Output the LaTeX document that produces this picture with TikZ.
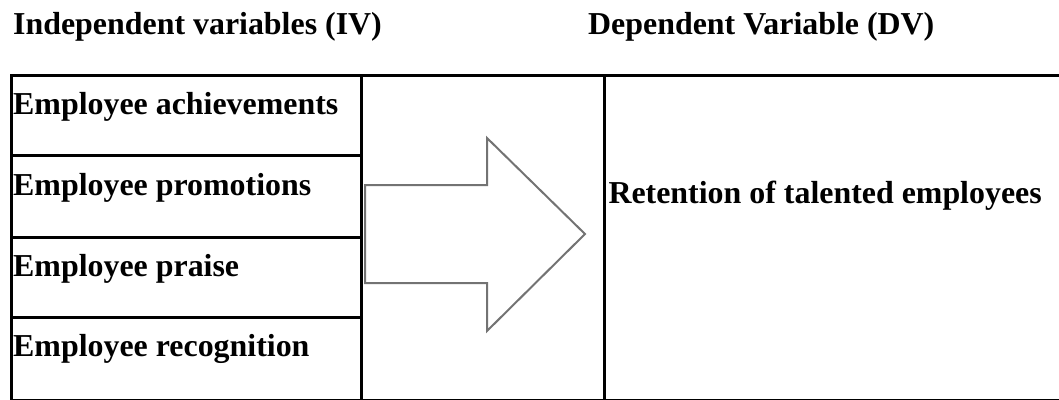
\documentclass[tikz,border=0pt]{standalone}
\usepackage{fontspec}
\setmainfont{Liberation Serif}
\begin{document}
\begin{tikzpicture}[x=1pt,y=-1pt,
  lbl/.style={anchor=base west, inner sep=0pt, font=\fontsize{31.9}{36}\selectfont\bfseries},
  rule/.style={line width=3pt, black},
  bigarrow/.style={draw=black!55, line width=2pt, line join=miter}]
\useasboundingbox (0,0) rectangle (1059,399);
\clip (0,0) rectangle (1059,399);
% headers
\node[lbl] (hiv) at (13,34) {Independent variables (IV)};
\node[lbl] (hdv) at (588,34) {Dependent Variable (DV)};
% table lines
\draw[rule] (10,75.3) -- (1062,75.3);
\draw[rule] (11.3,74) -- (11.3,402);
\draw[rule] (361,74) -- (361,402);
\draw[rule] (604,74) -- (604,402);
\draw[rule] (10,155) -- (361,155);
\draw[rule] (10,237) -- (361,237);
\draw[rule] (10,317.3) -- (361,317.3);
\draw[rule, line width=2.4pt] (10,400) -- (1062,400);
% cell texts
\node[lbl] (iv1) at (13,114.3) {Employee achievements};
\node[lbl] (iv2) at (13,195.5) {Employee promotions};
\node[lbl] (iv3) at (13,276.5) {Employee praise};
\node[lbl] (iv4) at (13,356.7) {Employee recognition};
\node[lbl] (dv) at (608.3,203.3) {Retention of talented employees};
% arrow
\draw[bigarrow] (365,185) -- (487,185) -- (487,138) -- (585,234) -- (487,331) -- (487,283) -- (365,283) -- cycle;
\end{tikzpicture}
\end{document}
